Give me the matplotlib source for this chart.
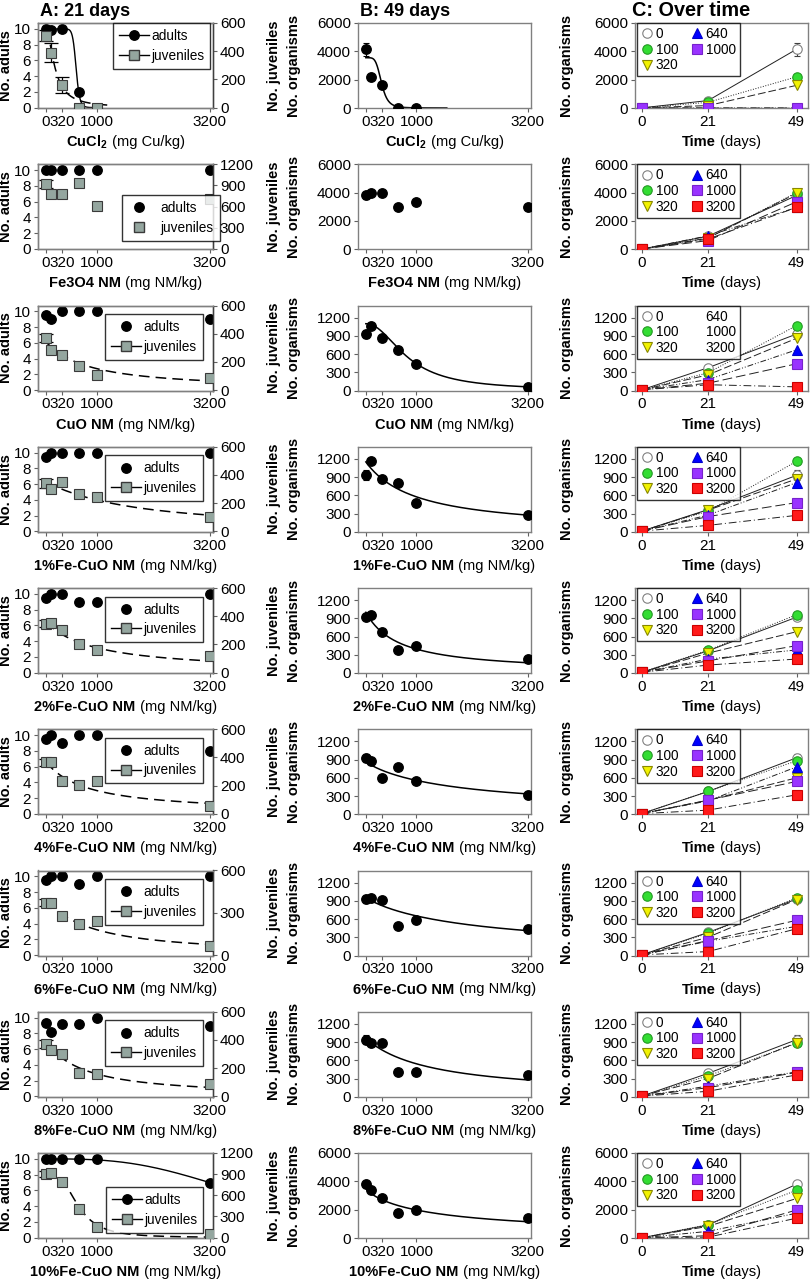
import numpy as np
import matplotlib
matplotlib.use("Agg")
import matplotlib.pyplot as plt
from matplotlib.lines import Line2D
from matplotlib.offsetbox import TextArea, HPacker, AnchoredOffsetbox

plt.rcParams['font.family'] = ['Liberation Sans', 'DejaVu Sans']
plt.rcParams['mathtext.fontset'] = 'custom'
plt.rcParams['mathtext.rm'] = 'Liberation Sans'
plt.rcParams['mathtext.bf'] = 'Liberation Sans:bold'

nan = np.nan
# ---------------- data ----------------
materials_bold = ["CuCl$_\\mathbf{2}$", "Fe3O4 NM", "CuO NM", "1%Fe-CuO NM", "2%Fe-CuO NM",
                  "4%Fe-CuO NM", "6%Fe-CuO NM", "8%Fe-CuO NM", "10%Fe-CuO NM"]
units = [" (mg Cu/kg)"] + [" (mg NM/kg)"] * 8
doses = [0, 100, 320, 640, 1000, 3200]
dose_ticks = [0, 320, 1000, 3200]
days = [0, 21, 49]

adults = [
    [10, 9.9, 10, 2, 0, nan],
    [10, 10, 10, 10, 10, 10],
    [9.5, 9.0, 10, 10, 10, 9.0],
    [9.4, 10, 10, 10, 10, 10],
    [9.5, 10, 10, 9, 9, 10],
    [9.5, 10, 9, 10, 10, 8],
    [9.5, 10, 10, 9, 10, 10],
    [9.3, 8.2, 9.2, 9.2, 10, 9.0],
    [10, 10, 10, 10, 10, 7],
]
juveniles = [
    [510, 390, 160, 0, 0, nan],
    [914, 781, 781, 938, 605, 714],
    [369, 282, 247, 170, 110, 87],
    [340, 300, 350, 264, 243, 100],
    [345, 355, 305, 200, 160, 115],
    [367, 367, 233, 203, 233, 54],
    [370, 370, 280, 220, 240, 65],
    [370, 330, 300, 167, 156, 84],
    [904, 918, 786, 400, 150, 47],
]
juveniles_err = [
    [40, 70, 55, 0, 0, nan],
    [57, 0, 0, 0, 0, 0],
    [30, 0, 0, 0, 0, 0],
    [30, 0, 0, 0, 0, 0],
    [25, 0, 0, 0, 0, 0],
    [25, 0, 0, 0, 0, 0],
    [25, 0, 0, 0, 0, 0],
    [30, 0, 0, 0, 0, 0],
    [45, 0, 0, 0, 0, 0],
]
organisms49 = [
    [4150, 2200, 1600, 0, 0, nan],
    [3800, 4000, 3950, 2950, 3350, 2950],
    [930, 1070, 860, 670, 440, 60],
    [930, 1160, 870, 810, 480, 270],
    [920, 960, 680, 380, 450, 230],
    [930, 880, 600, 780, 540, 320],
    [930, 950, 920, 480, 580, 440],
    [940, 880, 890, 410, 400, 360],
    [3800, 3370, 2790, 1750, 1980, 1400],
]
organisms49_err = [450, 250, 70, 80, 40, 70, 60, 70, 150]
organisms21 = [
    [525, 400, 170, 2, 0, nan],
    [924, 790, 790, 948, 615, 724],
    [375, 292, 257, 180, 120, 95],
    [365, 340, 355, 275, 250, 105],
    [365, 376, 327, 229, 200, 131],
    [375, 377, 230, 220, 232, 68],
    [380, 365, 300, 235, 245, 65],
    [385, 345, 300, 175, 150, 90],
    [915, 941, 824, 470, 160, 60],
]
organisms0 = 10

# fitted dose-response parameters (top, EC, slope, max dose drawn)
adult_fit = {0: (10, 590, 17, 1000), 8: (10, 4240, 3, 3200)}
juv_fit = {0: (560, 180, 1.8, 1200), 2: (340, 812, 1.05, 3200), 3: (345, 1700, 1.1, 3200),
           4: (360, 950, 1.0, 3200), 5: (370, 800, 1.0, 3200), 6: (380, 900, 1.1, 3200),
           7: (375, 750, 1.1, 3200), 8: (930, 620, 3.0, 3200)}
org_fit = {0: (3550, 310, 5, 1600), 2: (1100, 825, 2.1, 3200), 3: (1150, 1000, 1.0, 3200),
           4: (1000, 650, 1.0, 3200), 5: (870, 1900, 0.9, 3200), 6: (960, 2300, 0.9, 3200),
           7: (960, 1300, 1.0, 3200), 8: (3500, 1364, 0.84, 3200)}

juv_max = [600, 1200, 600, 600, 600, 600, 600, 600, 1200]
juv_ticks = [[0, 200, 400, 600], [0, 300, 600, 900, 1200], [0, 200, 400, 600], [0, 200, 400, 600],
             [0, 200, 400, 600], [0, 200, 400, 600], [0, 300, 600], [0, 200, 400, 600],
             [0, 300, 600, 900, 1200]]
org_max = [6000, 6000, 1400, 1400, 1400, 1400, 1400, 1400, 6000]
org_ticks_big = [0, 2000, 4000, 6000]
org_ticks_small = [0, 300, 600, 900, 1200]

dose_labels = ["0", "100", "320", "640", "1000", "3200"]
c_face = ['white', '#33dd33', '#f2f200', '#0000ff', '#9933ff', '#ff1a1a']
c_edge = ['#808080', '#229922', '#888800', '#0000cc', '#7722cc', '#cc0000']
c_marker = ['o', 'o', 'v', '^', 's', 's']
c_ls = ['-', ':', (0, (8, 3)), (0, (6, 2, 1, 2, 1, 2)), (0, (10, 4)), (0, (8, 3, 1, 3))]

# ---------------- layout ----------------
W, H = 810, 1283
fig = plt.figure(figsize=(W / 100, H / 100), dpi=100)
AX_H = 85
ROW0 = 23
PITCH = 141.25
colA_left, colA_w = 38, 175
colB_left, colB_w = 358, 173
colC_left, colC_w = 635, 173

FS_T = 11
FS_L = 10.5
FS_LEG = 9.8
SPINE = '#808080'
sq_face = '#94a69f'


def mk_ax(left, width, row):
    top = ROW0 + PITCH * row
    return fig.add_axes([left / W, 1 - (top + AX_H) / H, width / W, AX_H / H])


def style(ax):
    for s in ax.spines.values():
        s.set_color(SPINE)
        s.set_linewidth(1.0)
    ax.tick_params(labelsize=FS_T, length=3, width=0.8, color='#606060', pad=2)


def xlabel2(ax, bold, normal, y=-0.40):
    t1 = TextArea(bold, textprops=dict(fontweight='bold', fontsize=FS_L))
    t2 = TextArea(normal, textprops=dict(fontsize=FS_L))
    box = HPacker(children=[t1, t2], align='baseline', pad=0, sep=0)
    ab = AnchoredOffsetbox(loc='center', child=box, bbox_to_anchor=(0.5, y),
                           bbox_transform=ax.transAxes, frameon=False, pad=0, borderpad=0)
    ax.add_artist(ab)


def curve(params):
    top, ec, b, xmax = params
    xs = np.linspace(0, xmax, 300)
    return xs, top / (1 + (xs / ec) ** b)


legA = {0: ('upper right', (0.985, 1.0)), 1: ('lower right', (1.04, 0.10)),
        8: ('upper right', (0.945, 0.60))}

for r in range(9):
    # ---- column A ----
    ax = mk_ax(colA_left, colA_w, r)
    style(ax)
    ax2 = ax.twinx()
    style(ax2)
    ax2.spines['right'].set_color('#404040')
    ad = np.array(adults[r], dtype=float)
    jv = np.array(juveniles[r], dtype=float)
    je = np.array(juveniles_err[r], dtype=float)
    if r in adult_fit:
        xs, ys = curve(adult_fit[r])
        ax.plot(xs, ys, '-', color='black', lw=1.0)
    ax.plot(doses, ad, 'o', ms=6.8, color='black', zorder=3)
    ax.set_ylim(-0.05, 10.75)
    ax.set_yticks([0, 2, 4, 6, 8, 10])
    ax.set_xlim(-155, 3265)
    ax.set_xticks(dose_ticks)
    ax.set_xticklabels([str(d) for d in dose_ticks])
    ax.set_ylabel("No. adults", fontweight='bold', fontsize=FS_L)
    ax.yaxis.set_label_coords(-0.143, 0.5)
    if r in juv_fit:
        xs, ys = curve(juv_fit[r])
        ax2.plot(xs, ys, color='black', lw=1.1, ls=(0, (7, 4)))
    mask = je > 0
    ax2.errorbar(np.array(doses)[mask], jv[mask], yerr=je[mask], fmt='none', ecolor='black',
                 elinewidth=0.9, capsize=5, capthick=0.9, zorder=3)
    ax2.plot(doses, jv, 's', ms=6.8, mfc=sq_face, mec='#3a3a3a', mew=0.8, zorder=4)
    ax2.set_ylim(-juv_max[r] * 0.005, juv_max[r])
    ax2.set_yticks(juv_ticks[r])
    ax2.set_ylabel("No. juveniles", fontweight='bold', fontsize=FS_L, rotation=90)
    ax2.yaxis.set_label_coords(1.31, 0.5)
    xlabel2(ax, materials_bold[r], units[r])
    # legend
    hl, htp = 2.2, 0.15
    if r in (0, 8):
        h_a = Line2D([], [], color='black', marker='o', ms=6.8, lw=1.0)
        h_j = Line2D([], [], color='black', marker='s', ms=6.8, mfc=sq_face, mec='#3a3a3a', lw=1.0)
    elif r == 1:
        h_a = Line2D([], [], color='black', marker='o', ms=6.8, ls='none')
        h_j = Line2D([], [], marker='s', ms=6.8, mfc=sq_face, mec='#3a3a3a', ls='none')
        hl, htp = 1.6, 0.8
    else:
        h_a = Line2D([], [], color='black', marker='o', ms=6.8, ls='none')
        h_j = Line2D([], [], color='black', marker='s', ms=6.8, mfc=sq_face, mec='#3a3a3a', lw=1.0)
    loc, bb = legA.get(r, ('upper right', (0.94, 0.90)))
    lg = ax2.legend([h_a, h_j], ["adults", "juveniles"], loc=loc, bbox_to_anchor=bb,
                    fontsize=FS_LEG, frameon=True, fancybox=False, handlelength=hl,
                    handletextpad=htp, borderpad=0.45, labelspacing=0.4, borderaxespad=0)
    lg.get_frame().set_edgecolor('black')
    lg.get_frame().set_linewidth(1.0)

    # ---- column B ----
    bx = mk_ax(colB_left, colB_w, r)
    style(bx)
    o49 = np.array(organisms49[r], dtype=float)
    if r in org_fit:
        xs, ys = curve(org_fit[r])
        bx.plot(xs, ys, '-', color='black', lw=1.1)
    bx.errorbar([doses[0]], [o49[0]], yerr=[organisms49_err[r]], fmt='none', ecolor='black',
                elinewidth=0.8, capsize=2, capthick=0.8, zorder=3)
    bx.plot(doses, o49, 'o', ms=6.8, color='black', zorder=4)
    bx.set_xlim(-155, 3265)
    bx.set_xticks(dose_ticks)
    bx.set_xticklabels([str(d) for d in dose_ticks])
    bx.set_ylim(0, org_max[r])
    bx.set_yticks(org_ticks_big if org_max[r] == 6000 else org_ticks_small)
    bx.set_ylabel("No. organisms", fontweight='bold', fontsize=FS_L)
    bx.yaxis.set_label_coords(-0.33, 0.5)
    xlabel2(bx, materials_bold[r], units[r])

    # ---- column C ----
    cx = mk_ax(colC_left, colC_w, r)
    style(cx)
    o21 = np.array(organisms21[r], dtype=float)
    handles, labels = [], []
    for i, d in enumerate(doses):
        if np.isnan(o49[i]):
            continue
        yv = [organisms0, o21[i], o49[i]]
        cx.plot(days, yv, color='#202020', lw=0.7, ls=c_ls[i], zorder=2)
        if i == 0:
            cx.errorbar([49], [o49[0]], yerr=[organisms49_err[r]], fmt='none', ecolor='#404040',
                        elinewidth=0.8, capsize=2, capthick=0.8, zorder=2)
        cx.plot(days, yv, ls='none', marker=c_marker[i], ms=6.8, mfc=c_face[i], mec=c_edge[i],
                mew=0.8, zorder=3 + i)
        if r == 2 and i >= 3:
            handles.append(Line2D([], [], ls='none', marker=None))
        else:
            handles.append(Line2D([], [], ls='none', marker=c_marker[i], ms=6.8, mfc=c_face[i],
                                  mec=c_edge[i], mew=0.8))
        labels.append(dose_labels[i])
    cx.set_xlim(-2.1, 52.6)
    cx.set_xticks(days)
    cx.set_ylim(0, org_max[r])
    cx.set_yticks(org_ticks_big if org_max[r] == 6000 else org_ticks_small)
    cx.set_ylabel("No. organisms", fontweight='bold', fontsize=FS_L)
    cx.yaxis.set_label_coords(-0.355, 0.5)
    xlabel2(cx, "Time", " (days)")
    lg = cx.legend(handles, labels, ncol=2, loc='upper left', bbox_to_anchor=(0.01, 1.0),
                   fontsize=FS_LEG, frameon=True, fancybox=False, handlelength=0.9,
                   handletextpad=0.2, borderpad=0.3, labelspacing=0.12, columnspacing=0.9,
                   borderaxespad=0)
    lg.get_frame().set_edgecolor('black')
    lg.get_frame().set_linewidth(1.0)

fig.text(40 / W, 1 - 11 / H, "A: 21 days", fontsize=13, fontweight='bold', va='center', ha='left')
fig.text(360 / W, 1 - 11 / H, "B: 49 days", fontsize=13, fontweight='bold', va='center', ha='left')
fig.text(632 / W, 1 - 11 / H, "C: Over time", fontsize=14.3, fontweight='bold', va='center', ha='left')

fig.savefig("out.png", dpi=100)
